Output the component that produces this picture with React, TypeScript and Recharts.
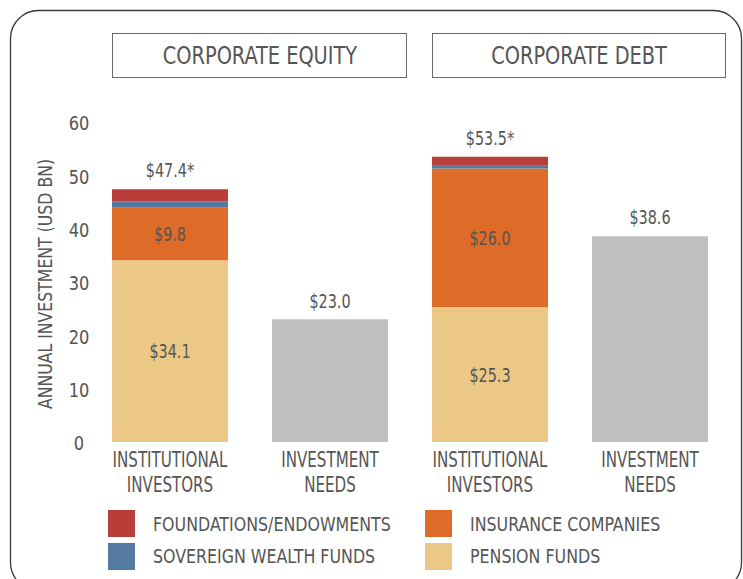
import React from "react";
import { BarChart, Bar, XAxis, YAxis, LabelList } from "recharts";

const categories = ["eq-inst", "eq-needs", "debt-inst", "debt-needs"];
const categoryLines: string[][] = [
  ["INSTITUTIONAL", "INVESTORS"],
  ["INVESTMENT", "NEEDS"],
  ["INSTITUTIONAL", "INVESTORS"],
  ["INVESTMENT", "NEEDS"],
];
const pension = [34.1, 0, 25.3, 0];
const insurance = [9.8, 0, 26.0, 0];
const sovereign = [1.2, 0, 0.5, 0];
const foundations = [2.3, 0, 1.7, 0];
const needs = [0, 23.0, 0, 38.6];
const totalLabels = ["$47.4*", "$23.0", "$53.5*", "$38.6"];
const yTicks = [0, 10, 20, 30, 40, 50, 60];
const panelTitles = ["CORPORATE EQUITY", "CORPORATE DEBT"];

const legendItems = [
  { name: "FOUNDATIONS/ENDOWMENTS", color: "#b93d38" },
  { name: "INSURANCE COMPANIES", color: "#df6b28" },
  { name: "SOVEREIGN WEALTH FUNDS", color: "#557aa1" },
  { name: "PENSION FUNDS", color: "#ebc886" },
];

const data = categories.map((c, i) => ({
  key: c,
  pension: pension[i],
  insurance: insurance[i],
  sovereign: sovereign[i],
  foundations: foundations[i],
  needs: needs[i],
  pensionLabel: pension[i] ? "$" + pension[i].toFixed(1) : "",
  insuranceLabel: insurance[i] ? "$" + insurance[i].toFixed(1) : "",
  instTotal: foundations[i] ? totalLabels[i] : "",
  needsTotal: needs[i] ? totalLabels[i] : "",
}));

const FONT = "'DejaVu Sans Condensed', 'DejaVu Sans', sans-serif";
const TEXT = "#555555";

const SText = (p: {
  x: number;
  y: number;
  size: number;
  sx: number;
  rotate?: number;
  children: any;
}) => (
  <text
    transform={`translate(${p.x} ${p.y})${p.rotate ? ` rotate(${p.rotate})` : ""} scale(${p.sx} 1)`}
    x={0}
    y={0}
    dy="0.36em"
    textAnchor="middle"
    fill={TEXT}
    fontSize={p.size}
    fontFamily={FONT}
  >
    {p.children}
  </text>
);

const XTick = (props: any) => {
  const { x, y, index } = props;
  const lines = categoryLines[index] || [];
  return (
    <g>
      {lines.map((l, k) => (
        <SText key={k} x={x} y={y + 17 + k * 25} size={21} sx={0.8}>
          {l}
        </SText>
      ))}
    </g>
  );
};

const YTick = (props: any) => {
  const { y, payload } = props;
  return (
    <SText x={79} y={y + 1.5} size={19} sx={0.95}>
      {payload.value}
    </SText>
  );
};

const insideLabel = (props: any) => {
  const { x, y, width, height, value } = props;
  if (!value || typeof value !== "string") return null;
  return (
    <SText x={x + width / 2} y={y + height / 2} size={20} sx={0.8}>
      {value}
    </SText>
  );
};

const topLabel = (props: any) => {
  const { x, y, width, value } = props;
  if (!value || typeof value !== "string") return null;
  return (
    <SText x={x + width / 2} y={y - 19} size={20} sx={0.8}>
      {value}
    </SText>
  );
};

export default function App() {
  return (
    <div
      style={{
        position: "absolute",
        left: 0,
        top: 0,
        width: 743,
        height: 579,
        overflow: "hidden",
        background: "#fff",
        fontFamily: FONT,
      }}
    >
      <svg
        width={743}
        height={579}
        style={{ position: "absolute", left: 0, top: 0 }}
      >
        <rect
          x={10.5}
          y={10.5}
          width={731}
          height={580}
          rx={28}
          ry={28}
          fill="none"
          stroke="#3a3a3a"
          strokeWidth={1.3}
        />
      </svg>
      {panelTitles.map((t, i) => (
        <div
          key={t}
          style={{
            position: "absolute",
            left: i === 0 ? 112 : 432,
            top: 33,
            width: i === 0 ? 293 : 292,
            height: 43,
            border: "1px solid #6a6a6a",
            display: "flex",
            alignItems: "center",
            justifyContent: "center",
            color: TEXT,
            fontSize: 25,
            fontFamily: FONT,
            boxSizing: "content-box",
          }}
        >
          <span
            style={{
              display: "inline-block",
              transform: "scaleX(0.86)",
              whiteSpace: "nowrap",
            }}
          >
            {t}
          </span>
        </div>
      ))}
      <div style={{ position: "absolute", left: 0, top: 0 }}>
        <BarChart
          width={743}
          height={579}
          data={data}
          margin={{ top: 122, right: 13, left: 30, bottom: 77 }}
          barSize={116}
        >
          <XAxis
            dataKey="key"
            axisLine={false}
            tickLine={false}
            tickSize={0}
            tickMargin={0}
            height={60}
            interval={0}
            tick={<XTick />}
          />
          <YAxis
            domain={[0, 60]}
            ticks={yTicks}
            axisLine={false}
            tickLine={false}
            width={60}
            interval={0}
            tick={<YTick />}
            label={() => (
              <SText x={45} y={284} size={19} sx={0.92} rotate={-90}>
                ANNUAL INVESTMENT (USD BN)
              </SText>
            )}
          />
          <Bar dataKey="pension" stackId="a" fill="#ebc886" isAnimationActive={false}>
            <LabelList dataKey="pensionLabel" content={insideLabel} />
          </Bar>
          <Bar dataKey="insurance" stackId="a" fill="#df6b28" isAnimationActive={false}>
            <LabelList dataKey="insuranceLabel" content={insideLabel} />
          </Bar>
          <Bar dataKey="sovereign" stackId="a" fill="#557aa1" isAnimationActive={false} />
          <Bar dataKey="foundations" stackId="a" fill="#b93d38" isAnimationActive={false}>
            <LabelList dataKey="instTotal" content={topLabel} />
          </Bar>
          <Bar dataKey="needs" stackId="a" fill="#bebfc1" isAnimationActive={false}>
            <LabelList dataKey="needsTotal" content={topLabel} />
          </Bar>
        </BarChart>
      </div>
      {legendItems.map((it, i) => {
        const col = i % 2;
        const row = Math.floor(i / 2);
        return (
          <div
            key={it.name}
            style={{
              position: "absolute",
              left: col === 0 ? 108 : 425,
              top: 510 + row * 32.5,
              height: 27,
              display: "flex",
              alignItems: "center",
              whiteSpace: "nowrap",
            }}
          >
            <div style={{ width: 27, height: 27, background: it.color }} />
            <span
              style={{
                marginLeft: 18,
                color: TEXT,
                fontSize: 20,
                fontFamily: FONT,
                display: "inline-block",
                transform: "scaleX(0.88)",
                transformOrigin: "left center",
              }}
            >
              {it.name}
            </span>
          </div>
        );
      })}
    </div>
  );
}
